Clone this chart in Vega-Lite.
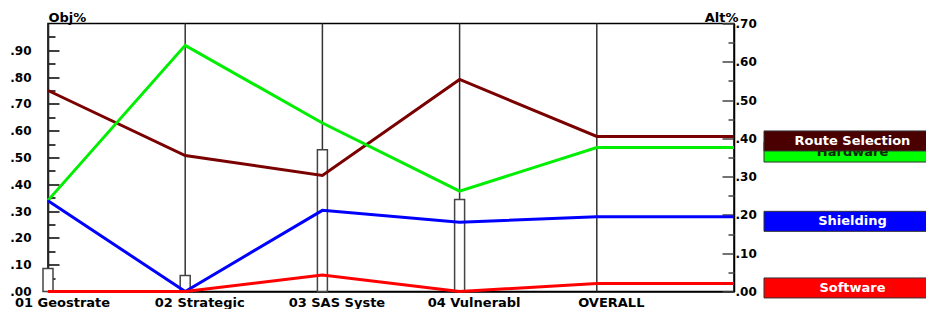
{
  "$schema": "https://vega.github.io/schema/vega-lite/v6.json",
  "background": "white",
  "padding": {"left": 8, "top": 10.5, "right": 0, "bottom": 0},
  "config": {"font": "DejaVu Sans", "view": {"stroke": null}},
  "bounds": "flush",
  "spacing": 30,
  "datasets": {
    "objectives": [
      {"objective": "01 Geostrate"},
      {"objective": "02 Strategic"},
      {"objective": "03 SAS Syste"},
      {"objective": "04 Vulnerabl"},
      {"objective": "OVERALL"}
    ],
    "weights": [
      {"objective": "01 Geostrate", "weight": 0.086},
      {"objective": "02 Strategic", "weight": 0.06},
      {"objective": "03 SAS Syste", "weight": 0.529},
      {"objective": "04 Vulnerabl", "weight": 0.343}
    ],
    "alts": [
      {"alt": "Route Selection", "objective": "01 Geostrate", "value": 0.525},
      {"alt": "Route Selection", "objective": "02 Strategic", "value": 0.355},
      {"alt": "Route Selection", "objective": "03 SAS Syste", "value": 0.303},
      {"alt": "Route Selection", "objective": "04 Vulnerabl", "value": 0.554},
      {"alt": "Route Selection", "objective": "OVERALL", "value": 0.405},
      {"alt": "Route Selection", "objective": " ", "value": 0.405},
      {"alt": "Hardware", "objective": "01 Geostrate", "value": 0.238},
      {"alt": "Hardware", "objective": "02 Strategic", "value": 0.643},
      {"alt": "Hardware", "objective": "03 SAS Syste", "value": 0.44},
      {"alt": "Hardware", "objective": "04 Vulnerabl", "value": 0.262},
      {"alt": "Hardware", "objective": "OVERALL", "value": 0.376},
      {"alt": "Hardware", "objective": " ", "value": 0.376},
      {"alt": "Shielding", "objective": "01 Geostrate", "value": 0.237},
      {"alt": "Shielding", "objective": "02 Strategic", "value": 0.0},
      {"alt": "Shielding", "objective": "03 SAS Syste", "value": 0.212},
      {"alt": "Shielding", "objective": "04 Vulnerabl", "value": 0.181},
      {"alt": "Shielding", "objective": "OVERALL", "value": 0.195},
      {"alt": "Shielding", "objective": " ", "value": 0.195},
      {"alt": "Software", "objective": "01 Geostrate", "value": 0.0},
      {"alt": "Software", "objective": "02 Strategic", "value": 0.0},
      {"alt": "Software", "objective": "03 SAS Syste", "value": 0.043},
      {"alt": "Software", "objective": "04 Vulnerabl", "value": 0.0},
      {"alt": "Software", "objective": "OVERALL", "value": 0.021},
      {"alt": "Software", "objective": " ", "value": 0.021}
    ]
  },
  "hconcat": [
    {
      "width": 686,
      "height": 268,
      "view": {"stroke": "#000", "strokeWidth": 1.5},
      "encoding": {
        "x": {
          "field": "objective",
          "type": "nominal",
          "scale": {"type": "point", "domain": ["01 Geostrate", "02 Strategic", "03 SAS Syste", "04 Vulnerabl", "OVERALL", " "], "padding": 0},
          "axis": {
            "orient": "bottom",
            "ticks": false,
            "domainColor": "#000",
            "domainWidth": 1.5,
            "labelFont": "DejaVu Sans",
            "labelFontSize": 13,
            "labelFontWeight": "bold",
            "labelColor": "#000",
            "labelAngle": 0,
            "labelPadding": 4.5,
            "labelOffset": 14,
            "labelOverlap": false,
            "title": null
          }
        }
      },
      "layer": [
        {
          "data": {"name": "objectives"},
          "mark": {"type": "rule", "color": "#333", "strokeWidth": 1.5},
          "encoding": {}
        },
        {
          "data": {"name": "weights"},
          "mark": {"type": "bar", "width": 10, "fill": "white", "stroke": "#444", "strokeWidth": 1.5},
          "encoding": {
            "y": {
              "field": "weight",
              "type": "quantitative",
              "scale": {"domain": [0, 1], "nice": false},
              "axis": {
                "orient": "left",
                "values": [0, 0.1, 0.2, 0.3, 0.4, 0.5, 0.6, 0.7, 0.8, 0.9],
                "labelExpr": "replace(format(datum.value, '.2f'), '0.', '.')",
                "tickSize": -11,
                "tickColor": "#000",
                "tickWidth": 1.5,
                "domainColor": "#000",
                "domainWidth": 1.5,
                "labelPadding": 28,
                "labelFont": "DejaVu Sans",
                "labelFontSize": 12,
                "labelFontWeight": "bold",
                "labelColor": "#000",
                "labelOverlap": false,
                "labelFlush": false,
                "grid": false,
                "title": "Obj%",
                "titleAngle": 0,
                "titleAlign": "left",
                "titleBaseline": "alphabetic",
                "titleX": 0,
                "titleY": -2,
                "titleFont": "DejaVu Sans",
                "titleFontSize": 13,
                "titleFontWeight": "bold",
                "titleColor": "#000"
              }
            }
          }
        },
        {
          "data": {"name": "weights"},
          "mark": {"type": "point", "opacity": 0},
          "encoding": {
            "y": {
              "field": "weight",
              "type": "quantitative",
              "scale": {"domain": [0, 1], "nice": false},
              "axis": {
                "orient": "left",
                "values": [0.05, 0.15, 0.25, 0.35, 0.45, 0.55, 0.65, 0.75, 0.85, 0.95],
                "labels": false,
                "domain": false,
                "tickSize": -7,
                "tickColor": "#000",
                "tickWidth": 1.5,
                "grid": false,
                "title": null
              }
            }
          }
        },
        {
          "data": {"name": "alts"},
          "mark": {"type": "line", "strokeWidth": 3},
          "encoding": {
            "y": {
              "field": "value",
              "type": "quantitative",
              "scale": {"domain": [0, 0.7], "nice": false},
              "axis": {
                "orient": "right",
                "values": [0, 0.1, 0.2, 0.3, 0.4, 0.5, 0.6, 0.7],
                "labelExpr": "replace(format(datum.value, '.2f'), '0.', '.')",
                "tickSize": -12,
                "tickColor": "#444",
                "tickWidth": 1.5,
                "domainColor": "#000",
                "domainWidth": 1.5,
                "labelPadding": 13,
                "labelFont": "DejaVu Sans",
                "labelFontSize": 12,
                "labelFontWeight": "bold",
                "labelColor": "#000",
                "labelOverlap": false,
                "labelFlush": false,
                "grid": false,
                "title": "Alt%",
                "titleAngle": 0,
                "titleAlign": "right",
                "titleBaseline": "alphabetic",
                "titleX": 4,
                "titleY": -2,
                "titleFont": "DejaVu Sans",
                "titleFontSize": 13,
                "titleFontWeight": "bold",
                "titleColor": "#000"
              }
            },
            "color": {
              "field": "alt",
              "type": "nominal",
              "scale": {"domain": ["Route Selection", "Hardware", "Shielding", "Software"], "range": ["#7a0000", "#00ee00", "#0000ff", "#ff0000"]},
              "legend": null
            }
          }
        },
        {
          "data": {"name": "alts"},
          "mark": {"type": "point", "opacity": 0},
          "encoding": {
            "y": {
              "field": "value",
              "type": "quantitative",
              "scale": {"domain": [0, 0.7], "nice": false},
              "axis": {
                "orient": "right",
                "values": [0.05, 0.15, 0.25, 0.35, 0.45, 0.55, 0.65],
                "labels": false,
                "domain": false,
                "tickSize": -6,
                "tickColor": "#444",
                "tickWidth": 1.5,
                "grid": false,
                "title": null
              }
            }
          }
        }
      ],
      "resolve": {"scale": {"y": "independent"}, "axis": {"y": "independent"}}
    },
    {
      "width": 163,
      "height": 268,
      "data": {"name": "alts"},
      "transform": [{"filter": "datum.objective === 'OVERALL'"}],
      "encoding": {
        "y": {"field": "value", "type": "quantitative", "scale": {"domain": [0, 0.7], "nice": false}, "axis": null}
      },
      "layer": [
        {
          "transform": [{"filter": "datum.alt !== 'Route Selection'"}],
          "mark": {"type": "tick", "orient": "horizontal", "thickness": 20, "size": 163, "opacity": 1, "stroke": "#333", "strokeWidth": 1, "yOffset": 4.5},
          "encoding": {
            "color": {"field": "alt", "type": "nominal", "scale": {"domain": ["Hardware", "Shielding", "Software"], "range": ["#00ff00", "#0000ff", "#ff0000"]}, "legend": null}
          }
        },
        {
          "transform": [{"filter": "datum.alt !== 'Route Selection'"}],
          "mark": {"type": "text", "font": "DejaVu Sans", "fontSize": 13, "fontWeight": "bold", "dx": 7, "yOffset": 4.5, "baseline": "middle", "align": "center"},
          "encoding": {
            "text": {"field": "alt", "type": "nominal"},
            "color": {"field": "alt", "type": "nominal", "scale": {"domain": ["Hardware", "Shielding", "Software"], "range": ["#0a2a0a", "#ffffff", "#ffffff"]}, "legend": null}
          }
        },
        {
          "transform": [{"filter": "datum.alt === 'Route Selection'"}],
          "mark": {"type": "tick", "orient": "horizontal", "thickness": 20, "size": 163, "opacity": 1, "stroke": "#333", "strokeWidth": 1, "yOffset": 4.5},
          "encoding": {
            "color": {"field": "alt", "type": "nominal", "scale": {"domain": ["Route Selection"], "range": ["#4a0000"]}, "legend": null}
          }
        },
        {
          "transform": [{"filter": "datum.alt === 'Route Selection'"}],
          "mark": {"type": "text", "font": "DejaVu Sans", "fontSize": 13, "fontWeight": "bold", "dx": 7, "yOffset": 4.5, "baseline": "middle", "align": "center"},
          "encoding": {
            "text": {"field": "alt", "type": "nominal"},
            "color": {"field": "alt", "type": "nominal", "scale": {"domain": ["Route Selection"], "range": ["#ffffff"]}, "legend": null}
          }
        }
      ],
      "resolve": {"scale": {"color": "independent"}}
    }
  ]
}
